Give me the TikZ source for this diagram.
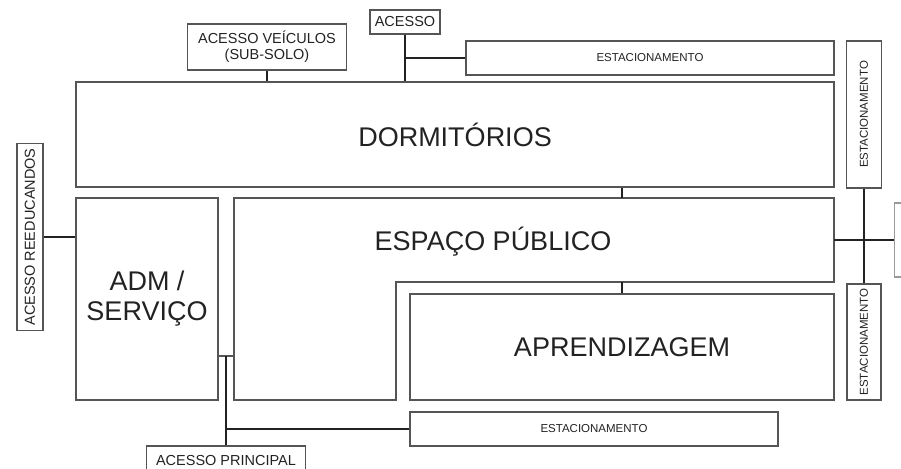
\documentclass[tikz,border=0pt]{standalone}
\usepackage{fontspec}
\setmainfont{Liberation Sans}
\definecolor{edge}{HTML}{555555}
\definecolor{ink}{HTML}{222222}
\begin{document}
\begin{tikzpicture}[x=1pt,y=-1pt,
  box/.style={draw=edge,line width=1.1pt,inner sep=0pt,text=ink,align=center},
  big/.style={font=\fontsize{27}{30}\selectfont},
  small/.style={font=\fontsize{14.5}{16}\selectfont},
  tiny/.style={font=\fontsize{11.5}{13}\selectfont},
  conn/.style={draw=ink,line width=2pt},
  thin/.style={draw=edge,line width=1.1pt}]
\useasboundingbox (0,0) rectangle (901,468);
% boxes
\node[box,small,minimum width=159pt,minimum height=46pt] (acv) at (267,47) {ACESSO VEÍCULOS\\(SUB-SOLO)};
\node[box,small,minimum width=70pt,minimum height=24pt] (acesso) at (405,22) {ACESSO};
\node[box,tiny,minimum width=368pt,minimum height=34pt] (est1) at (650,58) {ESTACIONAMENTO};
\node[box,tiny,minimum width=147pt,minimum height=35pt,rotate=90] (est2) at (864,114.5) {ESTACIONAMENTO};
\node[box,big,minimum width=758pt,minimum height=105pt] (dorm) at (455,134.5) {DORMITÓRIOS};
\node[box,big,minimum width=142pt,minimum height=202pt] (adm) at (147,299) {ADM /\\SERVIÇO};
\draw[thin] (234,198) -- (834,198) -- (834,282) -- (396,282) -- (396,400) -- (234,400) -- cycle;
\node[text=ink,big,anchor=base] (esp) at (493,250) {ESPAÇO PÚBLICO};
\coordinate (espT) at (622,198);
\coordinate (espB) at (622,282);
\coordinate (espR) at (834,240);
\coordinate (espL) at (234,356);
\node[box,big,minimum width=424pt,minimum height=106pt] (apr) at (622,347) {APRENDIZAGEM};
\node[box,tiny,minimum width=116pt,minimum height=34pt,rotate=90] (est3) at (864,342) {ESTACIONAMENTO};
\node[box,tiny,minimum width=368pt,minimum height=34pt] (est4) at (594,429) {ESTACIONAMENTO};
\node[box,small,minimum width=159pt,minimum height=30pt] (acp) at (226,461) {ACESSO PRINCIPAL};
\node[box,small,minimum width=187pt,minimum height=26pt,rotate=90] (reed) at (30,237) {ACESSO REEDUCANDOS};
\node[draw=edge!60,line width=1.1pt,inner sep=0pt,minimum width=34pt,minimum height=74pt,anchor=west] (cut) at (894,240) {};
% connectors
\draw[conn] (acv.south) -- (acv.south |- dorm.north);
\draw[conn] (acesso.south) -- (acesso.south |- dorm.north);
\coordinate (j1) at (acesso.south |- est1.west);
\draw[conn] (j1) -- (est1.west);
\draw[conn] (dorm.south -| espT) -- (espT);
\draw[conn] (espB) -- (apr.north -| espB);
\draw[conn] (espR) -- (cut.west);
\draw[conn] (est2.west) -- (est3.east);
\draw[conn] (reed.south) -- (reed.south -| adm.west);
\coordinate (j2) at (226,356);
\draw[thin] (adm.east |- j2) -- (espL);
\draw[conn] (j2) -- (acp.north);
\coordinate (j3) at (226,429);
\draw[conn] (j3) -- (est4.west);
\end{tikzpicture}
\end{document}
